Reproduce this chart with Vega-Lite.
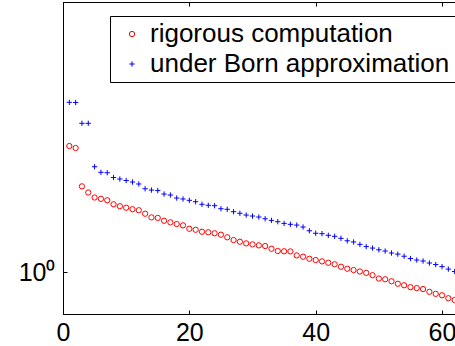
{
  "$schema": "https://vega.github.io/schema/vega-lite/v6.json",
  "width": 400,
  "height": 312,
  "autosize": {"type": "none"},
  "padding": {"left": 63, "top": 2, "right": 0, "bottom": 32},
  "background": "white",
  "config": {
    "view": {"stroke": "black", "strokeWidth": 1},
    "font": "Liberation Sans",
    "axis": {"domainColor": "black", "tickColor": "black", "labelColor": "black", "grid": false, "labelFont": "Liberation Sans", "title": null}
  },
  "datasets": {
    "pts": [
      {"i":1,"v":2.540,"s":"rigorous computation"},{"i":2,"v":2.503,"s":"rigorous computation"},{"i":3,"v":1.886,"s":"rigorous computation"},{"i":4,"v":1.802,"s":"rigorous computation"},{"i":5,"v":1.737,"s":"rigorous computation"},{"i":6,"v":1.720,"s":"rigorous computation"},{"i":7,"v":1.702,"s":"rigorous computation"},{"i":8,"v":1.652,"s":"rigorous computation"},{"i":9,"v":1.629,"s":"rigorous computation"},{"i":10,"v":1.611,"s":"rigorous computation"},
      {"i":11,"v":1.593,"s":"rigorous computation"},{"i":12,"v":1.581,"s":"rigorous computation"},{"i":13,"v":1.541,"s":"rigorous computation"},{"i":14,"v":1.500,"s":"rigorous computation"},{"i":15,"v":1.494,"s":"rigorous computation"},{"i":16,"v":1.463,"s":"rigorous computation"},{"i":17,"v":1.446,"s":"rigorous computation"},{"i":18,"v":1.428,"s":"rigorous computation"},{"i":19,"v":1.414,"s":"rigorous computation"},{"i":20,"v":1.379,"s":"rigorous computation"},
      {"i":21,"v":1.369,"s":"rigorous computation"},{"i":22,"v":1.349,"s":"rigorous computation"},{"i":23,"v":1.344,"s":"rigorous computation"},{"i":24,"v":1.334,"s":"rigorous computation"},{"i":25,"v":1.320,"s":"rigorous computation"},{"i":26,"v":1.295,"s":"rigorous computation"},{"i":27,"v":1.269,"s":"rigorous computation"},{"i":28,"v":1.253,"s":"rigorous computation"},{"i":29,"v":1.238,"s":"rigorous computation"},{"i":30,"v":1.229,"s":"rigorous computation"},
      {"i":31,"v":1.220,"s":"rigorous computation"},{"i":32,"v":1.214,"s":"rigorous computation"},{"i":33,"v":1.190,"s":"rigorous computation"},{"i":34,"v":1.170,"s":"rigorous computation"},{"i":35,"v":1.168,"s":"rigorous computation"},{"i":36,"v":1.167,"s":"rigorous computation"},{"i":37,"v":1.133,"s":"rigorous computation"},{"i":38,"v":1.122,"s":"rigorous computation"},{"i":39,"v":1.105,"s":"rigorous computation"},{"i":40,"v":1.095,"s":"rigorous computation"},
      {"i":41,"v":1.084,"s":"rigorous computation"},{"i":42,"v":1.073,"s":"rigorous computation"},{"i":43,"v":1.061,"s":"rigorous computation"},{"i":44,"v":1.042,"s":"rigorous computation"},{"i":45,"v":1.027,"s":"rigorous computation"},{"i":46,"v":1.017,"s":"rigorous computation"},{"i":47,"v":1.006,"s":"rigorous computation"},{"i":48,"v":0.996,"s":"rigorous computation"},{"i":49,"v":0.979,"s":"rigorous computation"},{"i":50,"v":0.955,"s":"rigorous computation"},
      {"i":51,"v":0.950,"s":"rigorous computation"},{"i":52,"v":0.936,"s":"rigorous computation"},{"i":53,"v":0.919,"s":"rigorous computation"},{"i":54,"v":0.909,"s":"rigorous computation"},{"i":55,"v":0.896,"s":"rigorous computation"},{"i":56,"v":0.890,"s":"rigorous computation"},{"i":57,"v":0.884,"s":"rigorous computation"},{"i":58,"v":0.866,"s":"rigorous computation"},{"i":59,"v":0.853,"s":"rigorous computation"},{"i":60,"v":0.844,"s":"rigorous computation"},
      {"i":61,"v":0.826,"s":"rigorous computation"},{"i":62,"v":0.815,"s":"rigorous computation"},
      {"i":1,"v":3.506,"s":"under Born approximation"},{"i":2,"v":3.501,"s":"under Born approximation"},{"i":3,"v":3.003,"s":"under Born approximation"},{"i":4,"v":3.003,"s":"under Born approximation"},{"i":5,"v":2.180,"s":"under Born approximation"},{"i":6,"v":2.092,"s":"under Born approximation"},{"i":7,"v":2.085,"s":"under Born approximation"},{"i":8,"v":2.013,"s":"under Born approximation"},{"i":9,"v":1.991,"s":"under Born approximation"},{"i":10,"v":1.969,"s":"under Born approximation"},
      {"i":11,"v":1.947,"s":"under Born approximation"},{"i":12,"v":1.919,"s":"under Born approximation"},{"i":13,"v":1.853,"s":"under Born approximation"},{"i":14,"v":1.835,"s":"under Born approximation"},{"i":15,"v":1.828,"s":"under Born approximation"},{"i":16,"v":1.782,"s":"under Born approximation"},{"i":17,"v":1.769,"s":"under Born approximation"},{"i":18,"v":1.730,"s":"under Born approximation"},{"i":19,"v":1.718,"s":"under Born approximation"},{"i":20,"v":1.701,"s":"under Born approximation"},
      {"i":21,"v":1.684,"s":"under Born approximation"},{"i":22,"v":1.652,"s":"under Born approximation"},{"i":23,"v":1.640,"s":"under Born approximation"},{"i":24,"v":1.635,"s":"under Born approximation"},{"i":25,"v":1.599,"s":"under Born approximation"},{"i":26,"v":1.592,"s":"under Born approximation"},{"i":27,"v":1.564,"s":"under Born approximation"},{"i":28,"v":1.546,"s":"under Born approximation"},{"i":29,"v":1.526,"s":"under Born approximation"},{"i":30,"v":1.515,"s":"under Born approximation"},
      {"i":31,"v":1.504,"s":"under Born approximation"},{"i":32,"v":1.485,"s":"under Born approximation"},{"i":33,"v":1.467,"s":"under Born approximation"},{"i":34,"v":1.453,"s":"under Born approximation"},{"i":35,"v":1.435,"s":"under Born approximation"},{"i":36,"v":1.425,"s":"under Born approximation"},{"i":37,"v":1.417,"s":"under Born approximation"},{"i":38,"v":1.397,"s":"under Born approximation"},{"i":39,"v":1.359,"s":"under Born approximation"},{"i":40,"v":1.334,"s":"under Born approximation"},
      {"i":41,"v":1.330,"s":"under Born approximation"},{"i":42,"v":1.314,"s":"under Born approximation"},{"i":43,"v":1.304,"s":"under Born approximation"},{"i":44,"v":1.285,"s":"under Born approximation"},{"i":45,"v":1.262,"s":"under Born approximation"},{"i":46,"v":1.251,"s":"under Born approximation"},{"i":47,"v":1.229,"s":"under Born approximation"},{"i":48,"v":1.209,"s":"under Born approximation"},{"i":49,"v":1.196,"s":"under Born approximation"},{"i":50,"v":1.181,"s":"under Born approximation"},
      {"i":51,"v":1.170,"s":"under Born approximation"},{"i":52,"v":1.153,"s":"under Born approximation"},{"i":53,"v":1.144,"s":"under Born approximation"},{"i":54,"v":1.126,"s":"under Born approximation"},{"i":55,"v":1.107,"s":"under Born approximation"},{"i":56,"v":1.095,"s":"under Born approximation"},{"i":57,"v":1.087,"s":"under Born approximation"},{"i":58,"v":1.071,"s":"under Born approximation"},{"i":59,"v":1.059,"s":"under Born approximation"},{"i":60,"v":1.043,"s":"under Born approximation"},
      {"i":61,"v":1.024,"s":"under Born approximation"},{"i":62,"v":1.006,"s":"under Born approximation"}
    ]
  },
  "data": {"name": "pts"},
  "layer": [
    {
      "mark": {"type": "point", "filled": false, "strokeWidth": 1, "size": 28, "opacity": 1, "clip": true},
      "encoding": {
        "x": {"field": "i", "type": "quantitative", "scale": {"domain": [0, 63.32], "nice": false, "zero": false},
              "axis": {"orient": "bottom", "values": [0, 20, 40, 60], "tickSize": -4, "labelFontSize": 25, "labelPadding": 10, "labelFlush": false}},
        "y": {"field": "v", "type": "quantitative", "scale": {"type": "log", "domain": [0.7352, 7.352], "nice": false},
              "axis": {"orient": "left", "values": [1], "labelExpr": "'10⁰'", "tickSize": -4, "labelFontSize": 25, "labelPadding": 12}},
        "color": {"field": "s", "type": "nominal", "scale": {"range": ["#ff0000", "#0000ff"]},
                  "legend": {"title": null, "orient": "none", "legendX": 47, "legendY": 14, "strokeColor": "black", "fillColor": "white", "padding": 5, "symbolOffset": 4, "labelOffset": 5, "labelFontSize": 26, "labelLimit": 500, "labelFont": "Liberation Sans", "labelColor": "black", "rowPadding": 4, "symbolSize": 28, "symbolStrokeWidth": 1}},
        "shape": {"field": "s", "type": "nominal", "scale": {"range": ["circle", "M-1,0H1M0,-1V1"]}}
      }
    },
    {
      "mark": {"type": "point", "opacity": 0},
      "encoding": {
        "x": {"field": "i", "type": "quantitative", "scale": {"domain": [0, 63.32], "nice": false, "zero": false},
              "axis": {"orient": "top", "values": [0, 20, 40, 60], "tickSize": -4, "labels": false}},
        "y": {"field": "v", "type": "quantitative"}
      }
    }
  ],
  "resolve": {"axis": {"x": "independent"}}
}
